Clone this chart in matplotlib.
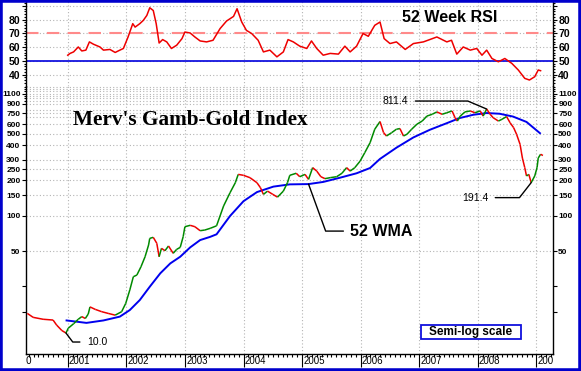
"""
Merv's Gamb-Gold Index - weekly index, 52 week WMA and 52 week RSI
"""

import matplotlib
matplotlib.use("Agg")
import matplotlib.pyplot as plt
from matplotlib.collections import LineCollection
from matplotlib.patches import Rectangle
from matplotlib.ticker import FixedLocator, NullFormatter
from matplotlib.transforms import Bbox, TransformedBbox, blended_transform_factory

plt.rcParams['font.family'] = ['Liberation Sans', 'DejaVu Sans']

# index values (decimal year, value)
PRICE_YEARS = [2000.31, 2000.41, 2000.58, 2000.75, 2000.81, 2000.90, 2000.97, 2001.01, 2001.10, 2001.18,
               2001.24, 2001.30, 2001.35, 2001.38, 2001.47, 2001.58, 2001.69, 2001.81, 2001.92, 2001.99,
               2002.06, 2002.12, 2002.18, 2002.25, 2002.32, 2002.38, 2002.40, 2002.46, 2002.52, 2002.56,
               2002.60, 2002.66, 2002.72, 2002.80, 2002.86, 2002.92, 2002.97, 2003.00, 2003.09, 2003.17,
               2003.26, 2003.34, 2003.43, 2003.54, 2003.66, 2003.77, 2003.86, 2003.91, 2004.00, 2004.11,
               2004.23, 2004.29, 2004.34, 2004.41, 2004.50, 2004.58, 2004.68, 2004.75, 2004.79, 2004.90,
               2004.96, 2005.05, 2005.11, 2005.18, 2005.25, 2005.32, 2005.39, 2005.48, 2005.59, 2005.68,
               2005.76, 2005.82, 2005.90, 2005.99, 2006.07, 2006.16, 2006.24, 2006.33, 2006.39, 2006.44,
               2006.53, 2006.61, 2006.67, 2006.73, 2006.79, 2006.87, 2006.96, 2007.05, 2007.13, 2007.22,
               2007.30, 2007.39, 2007.47, 2007.56, 2007.61, 2007.65, 2007.70, 2007.78, 2007.87, 2007.95,
               2008.04, 2008.09, 2008.15, 2008.21, 2008.26, 2008.35, 2008.41, 2008.49, 2008.55, 2008.61,
               2008.66, 2008.72, 2008.76, 2008.80, 2008.83, 2008.87, 2008.91, 2008.97, 2009.01, 2009.03,
               2009.07, 2009.11]
PRICE_VALUES = [14.7, 13.6, 13.1, 12.9, 11.7, 10.5, 10.0, 11.0, 12.0, 13.1,
                13.8, 13.3, 14.5, 16.7, 15.9, 15.2, 14.7, 14.2, 15.2, 17.9,
                23.3, 30.2, 31.2, 36.7, 44.7, 56.3, 64.1, 65.4, 58.2, 44.7,
                52.7, 50.3, 55.2, 47.8, 51.7, 53.7, 66.2, 80.6, 82.8, 80.6,
                74.5, 75.5, 78, 82, 121, 157, 191, 225, 221, 211,
                191, 173, 152, 162, 152, 144, 162, 191, 221, 230,
                215, 225, 204, 257, 240, 215, 207, 211, 215, 230,
                257, 240, 257, 292, 345, 419, 546, 635, 511, 478,
                511, 546, 553, 478, 495, 546, 603, 641, 707, 732,
                767, 732, 755, 781, 685, 641, 707, 767, 781, 755,
                781, 707, 811.4, 732, 685, 641, 663, 700, 620, 563,
                495, 406, 310, 257, 218, 225, 191.4, 218, 257, 310,
                334, 326]

# 52 week weighted moving average
WMA_YEARS = [2000.98, 2001.32, 2001.61, 2001.89, 2002.06, 2002.23, 2002.40, 2002.58, 2002.75, 2002.92,
             2003.09, 2003.26, 2003.43, 2003.54, 2003.77, 2004.00, 2004.23, 2004.51, 2004.79, 2005.11,
             2005.36, 2005.65, 2005.93, 2006.16, 2006.33, 2006.61, 2006.90, 2007.18, 2007.47, 2007.69,
             2007.92, 2008.15, 2008.37, 2008.60, 2008.83, 2009.06]
WMA_VALUES = [12.8, 12.2, 12.8, 13.8, 15.7, 19.1, 24.8, 32.3, 39.2, 44.7,
              53.7, 62, 66, 69.4, 99.4, 133, 159, 177, 185, 186,
              194, 211, 230, 255, 305, 380, 465, 540, 615, 680,
              725, 750, 740, 700, 630, 505]

# 52 week RSI
RSI_YEARS = [2001.00, 2001.04, 2001.10, 2001.18, 2001.24, 2001.31, 2001.37, 2001.44, 2001.55, 2001.61,
             2001.72, 2001.81, 2001.89, 2001.95, 2002.03, 2002.11, 2002.15, 2002.23, 2002.29, 2002.35,
             2002.40, 2002.46, 2002.51, 2002.56, 2002.62, 2002.69, 2002.77, 2002.86, 2002.95, 2003.00,
             2003.09, 2003.17, 2003.26, 2003.37, 2003.48, 2003.60, 2003.71, 2003.83, 2003.89, 2003.97,
             2004.05, 2004.14, 2004.25, 2004.34, 2004.45, 2004.57, 2004.68, 2004.76, 2004.85, 2004.96,
             2005.08, 2005.16, 2005.25, 2005.36, 2005.48, 2005.62, 2005.73, 2005.82, 2005.93, 2006.04,
             2006.13, 2006.24, 2006.33, 2006.40, 2006.50, 2006.61, 2006.76, 2006.90, 2007.07, 2007.30,
             2007.47, 2007.55, 2007.64, 2007.75, 2007.87, 2007.98, 2008.07, 2008.15, 2008.24, 2008.35,
             2008.46, 2008.58, 2008.69, 2008.80, 2008.88, 2008.97, 2009.03, 2009.07]
RSI_VALUES = [54.1, 55.4, 56.5, 60.1, 57.2, 57.8, 63.8, 62.1, 60.1, 57.8,
              58.3, 56.1, 57.8, 59, 67.4, 77.1, 74.6, 77.1, 79.5, 83.1,
              88.7, 86.7, 77.1, 63, 65.5, 63.8, 59, 61.4, 66.2, 71,
              70.3, 67.4, 64.5, 63.8, 65, 73.5, 79, 82.4, 88, 78.3,
              72.2, 69.9, 65, 56.5, 57.8, 52.9, 56.5, 65.5, 63.8, 60.7,
              59, 64.5, 59, 54.1, 55.4, 54.9, 60.7, 56.5, 60.7, 69.9,
              67.9, 75.9, 78.3, 66.2, 62.6, 63.8, 58.3, 62.6, 63.8, 67.4,
              63.8, 65, 54.9, 60.1, 57.8, 59, 54.1, 57.8, 51.7, 49.3,
              51.7, 48.1, 43.3, 37.2, 36, 38.4, 43.3, 42.8]

YEARS = list(range(2000, 2010))
RSI_TICKS = [40, 50, 60, 70, 80, 90]
RSI_LABELS = ["40", "50", "60", "70", "80", ""]
PRICE_TICKS = [15, 25, 50, 100, 150, 200, 250, 300, 400, 500, 600, 750, 900, 1100]
PRICE_LABELS = ["", "", "50", "100", "150", "200", "250", "300", "400", "500", "600", "750", "900", "1100"]
PRICE_GRID = [50, 100, 150, 200, 250, 300, 400, 500, 600, 700, 750, 800, 900,
              950, 1000, 1050, 1100, 1150, 1200, 1250]

GRID = dict(color="#b4b4b4", linestyle=(0, (1, 2)), linewidth=0.8)
W, H = 581, 371
X_RANGE = (2000.288, 2009.277)


def style_y(ax, ticks, labels, size, family):
    """ticks and labels on both sides, pointing out"""
    ax.set_yticks(ticks)
    ax.set_yticklabels(labels, fontsize=size, fontweight="bold", family=family)
    ax.yaxis.set_minor_formatter(NullFormatter())
    ax.tick_params(axis="y", which="both", left=True, right=True, labelleft=True,
                   labelright=True, direction="out", width=0.8, pad=1)
    ax.tick_params(axis="y", which="major", length=3)
    ax.tick_params(axis="y", which="minor", length=1.5)


def callout(ax, text, xy, offset, angle_b, **kw):
    """label with a bent pointer line"""
    ax.annotate(text, xy=xy, xytext=offset, textcoords="offset pixels", ha="center", va="center",
                arrowprops=dict(arrowstyle="-", color="black", lw=1, shrinkA=3, shrinkB=0,
                                connectionstyle="angle,angleA=0,angleB=%d,rad=0" % angle_b), **kw)


fig = plt.figure(figsize=(W / 100, H / 100), dpi=100)
left, right = 26 / W, 552.7 / W
ax = fig.add_axes([left, 1 - 353.5 / H, right - left, 268 / H])
ax_rsi = fig.add_axes([left, 1 - 85.5 / H, right - left, 85 / H], sharex=ax)

for a in (ax, ax_rsi):
    a.set_facecolor("white")
    for side in ("left", "right", "bottom", "top"):
        a.spines[side].set_linewidth(1)
    a.spines["top"].set_visible(False)
    a.set_xticks(YEARS)
    a.xaxis.set_minor_locator(FixedLocator([y + m / 12 for y in YEARS for m in range(1, 12)]))
    a.grid(axis="x", which="major", **GRID)
ax_rsi.spines["bottom"].set_visible(False)
ax_rsi.tick_params(axis="x", which="both", bottom=False, labelbottom=False)

# ---- RSI panel ----
ax_rsi.set_ylim(32, 94)
style_y(ax_rsi, RSI_TICKS, RSI_LABELS, 7.5, "Liberation Sans")
ax_rsi.yaxis.set_minor_locator(FixedLocator(range(34, 94, 2)))
ax_rsi.grid(axis="y", which="major", **GRID)
ax_rsi.axhline(70, color="#ff8a8a", lw=1.5, linestyle=(0, (6, 4)))
ax_rsi.axhline(50, color="#0000dd", lw=1.2)
ax_rsi.plot(RSI_YEARS, RSI_VALUES, color="#ee0000", lw=1.1)
ax_rsi.text(0.713, 0.747, "52 Week RSI", transform=ax_rsi.transAxes, fontsize=11.5,
            fontweight="bold", va="baseline", ha="left")

# ---- price panel ----
ax.set_yscale("log")
ax.set_ylim(6.69, 1288)
style_y(ax, PRICE_TICKS, PRICE_LABELS, 6, ["Liberation Sans Narrow", "Liberation Sans"])
ax.yaxis.set_minor_locator(FixedLocator([950, 1000, 1050, 1150, 1200, 1250]))
for v in PRICE_GRID:
    ax.axhline(v, zorder=0.5, **GRID)

# up weeks green, down weeks red
segs, cols = [], []
for i in range(1, len(PRICE_YEARS)):
    segs.append([(PRICE_YEARS[i - 1], PRICE_VALUES[i - 1]), (PRICE_YEARS[i], PRICE_VALUES[i])])
    cols.append("#008a00" if PRICE_VALUES[i] >= PRICE_VALUES[i - 1] else "#ee0000")
ax.add_collection(LineCollection(segs, colors=cols, linewidths=1.1, zorder=3))
ax.plot(WMA_YEARS, WMA_VALUES, color="#0000ee", lw=1.4, zorder=2)

# set_xticks widens the view, so fix the range afterwards
ax.set_xlim(*X_RANGE)

# x axis: year ticks long, month ticks short, labels to the right of the tick
ax.tick_params(axis="x", which="major", length=9, width=0.8, labelbottom=False)
ax.tick_params(axis="x", which="minor", length=2.5, width=0.8)
trans = blended_transform_factory(ax.transData, ax.transAxes)
clip = TransformedBbox(Bbox([[0, -1], [1, 0]]), ax.transAxes)
for yr in YEARS:
    t = ax.text(yr + 0.02, -0.011, str(yr), transform=trans, fontsize=7, ha="left", va="top")
    t.set_clip_path(None)
    t.set_clip_box(clip)
    t.set_clip_on(True)

ax.text(0.0887, 0.8526, "Merv's Gamb-Gold Index", transform=ax.transAxes,
        family=["Liberation Serif", "DejaVu Serif"], fontsize=15.3, fontweight="bold",
        va="baseline", ha="left")

peak = PRICE_VALUES.index(max(PRICE_VALUES))
low = PRICE_VALUES.index(min(PRICE_VALUES))
late_low = PRICE_VALUES.index(min(PRICE_VALUES[100:]))
wma_pt = WMA_YEARS.index(2005.11)
callout(ax, "811.4", (PRICE_YEARS[peak], PRICE_VALUES[peak]), (-91, 8), 157, fontsize=7.5)
callout(ax, "191.4", (PRICE_YEARS[late_low], PRICE_VALUES[late_low]), (-56, -15), 52, fontsize=7.5)
callout(ax, "10.0", (PRICE_YEARS[low], PRICE_VALUES[low]), (31, -9), 127, fontsize=7.5)
callout(ax, "52 WMA", (WMA_YEARS[wma_pt], WMA_VALUES[wma_pt]), (73, -47), -70,
        fontsize=11.5, fontweight="bold")

ax.add_patch(Rectangle((0.7494, 0.053), 0.1899, 0.0534, transform=ax.transAxes,
                       facecolor="white", edgecolor="#1010dd", lw=1.3, zorder=4))
ax.text(0.8443, 0.0797, "Semi-log scale", transform=ax.transAxes, fontsize=8.5,
        fontweight="bold", ha="center", va="center", zorder=5)

# blue frame round the picture
fig.patches.append(Rectangle((0, 0), 1, 1, transform=fig.transFigure, fill=False,
                             edgecolor="#0000cc", lw=4))

fig.savefig("out.png", dpi=100)
